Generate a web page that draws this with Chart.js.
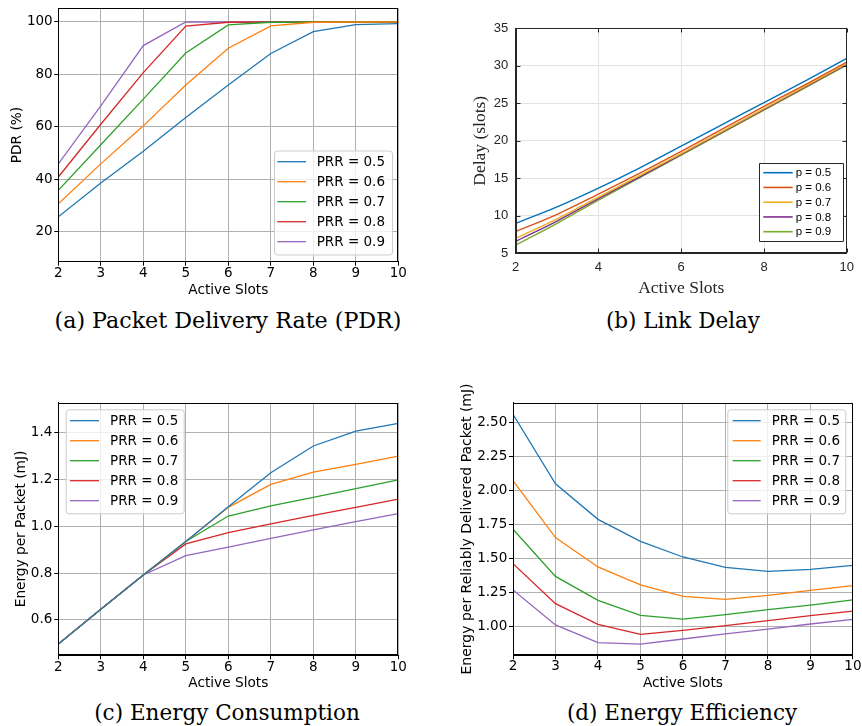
<!DOCTYPE html>
<html><head><meta charset="utf-8">
<script src="https://cdn.jsdelivr.net/npm/chart.js@4.4.1/dist/chart.umd.min.js"></script>
<style>
html,body{margin:0;padding:0;background:#fff;overflow:hidden;width:862px;height:726px;}
canvas{position:absolute;}
.cap{position:absolute;width:500px;font-family:"DejaVu Serif";font-size:21.5px;line-height:21.5px;text-align:center;white-space:nowrap;color:#000;}
</style></head>
<body>
<canvas id="ca" width="420" height="300" style="left:0;top:0"></canvas>
<canvas id="cb" width="422" height="300" style="left:440px;top:0"></canvas>
<canvas id="cc" width="420" height="320" style="left:0;top:380px"></canvas>
<canvas id="cd" width="422" height="320" style="left:440px;top:380px"></canvas>
<div class="cap" style="left:-22px;top:310px;font-size:22.2px">(a) Packet Delivery Rate (PDR)</div>
<div class="cap" style="left:433px;top:310px">(b) Link Delay</div>
<div class="cap" style="left:-23px;top:702px">(c) Energy Consumption</div>
<div class="cap" style="left:432px;top:702px">(d) Energy Efficiency</div>
<script>
// ---------- data ----------
const slots = [2, 3, 4, 5, 6, 7, 8, 9, 10];
const prrLabels = ['PRR = 0.5', 'PRR = 0.6', 'PRR = 0.7', 'PRR = 0.8', 'PRR = 0.9'];
const pLabels = ['p = 0.5', 'p = 0.6', 'p = 0.7', 'p = 0.8', 'p = 0.9'];

const pdr05 = [25.7, 38.6, 50.7, 63.6, 76.0, 88.0, 96.3, 99.0, 99.4];
const pdr06 = [30.7, 45.9, 60.4, 76.0, 90.0, 98.5, 99.9, 100, 100];
const pdr07 = [35.8, 53.2, 70.6, 88.2, 98.9, 99.9, 100, 100, 100];
const pdr08 = [40.9, 61.0, 80.7, 98.4, 99.9, 100, 100, 100, 100];
const pdr09 = [45.9, 68.0, 91.0, 100, 100, 100, 100, 100, 100];

const delay05 = [9.0, 11.2, 13.7, 16.4, 19.3, 22.2, 25.1, 28.0, 31.0];
const delay06 = [7.9, 10.2, 12.9, 15.7, 18.6, 21.6, 24.6, 27.5, 30.5];
const delay07 = [7.0, 9.6, 12.5, 15.4, 18.3, 21.3, 24.3, 27.3, 30.3];
const delay08 = [6.6, 9.3, 12.3, 15.2, 18.2, 21.2, 24.2, 27.2, 30.2];
const delay09 = [6.1, 9.0, 12.1, 15.1, 18.1, 21.1, 24.1, 27.1, 30.1];

const energy05 = [0.497, 0.646, 0.792, 0.935, 1.084, 1.229, 1.343, 1.407, 1.440];
const energy06 = [0.497, 0.646, 0.792, 0.935, 1.081, 1.179, 1.231, 1.265, 1.300];
const energy07 = [0.497, 0.646, 0.792, 0.935, 1.044, 1.087, 1.124, 1.161, 1.198];
const energy08 = [0.497, 0.646, 0.792, 0.925, 0.973, 1.010, 1.047, 1.081, 1.116];
const energy09 = [0.497, 0.646, 0.792, 0.875, 0.911, 0.948, 0.985, 1.020, 1.054];

const eff05 = [2.559, 2.050, 1.789, 1.628, 1.513, 1.437, 1.408, 1.423, 1.452];
const eff06 = [2.072, 1.655, 1.440, 1.308, 1.225, 1.203, 1.232, 1.269, 1.303];
const eff07 = [1.716, 1.371, 1.195, 1.085, 1.058, 1.090, 1.127, 1.161, 1.198];
const eff08 = [1.464, 1.171, 1.019, 0.946, 0.975, 1.010, 1.046, 1.083, 1.117];
const eff09 = [1.271, 1.015, 0.885, 0.875, 0.912, 0.949, 0.985, 1.022, 1.056];

const slotTicks = [2, 3, 4, 5, 6, 7, 8, 9, 10];
const delaySlotTicks = [2, 4, 6, 8, 10];
const pdrTicks = [20, 40, 60, 80, 100];
const delayTicks = [5, 10, 15, 20, 25, 30, 35];
const energyTicks = [0.6, 0.8, 1.0, 1.2, 1.4];
const effTicks = [1.0, 1.25, 1.5, 1.75, 2.0, 2.25, 2.5];

// ---------- styles ----------
const tab10 = ['#1f77b4', '#ff7f0e', '#2ca02c', '#d62728', '#9467bd'];
const matlab = ['#0072BD', '#D95319', '#EDB120', '#7E2F8E', '#77AC30'];
const MPL = 'DejaVu Sans';

function pts(arr) { return slots.map((s, i) => ({ x: s, y: arr[i] })); }
function series(labels, arrs, colors, width, extra) {
  return arrs.map((a, i) => Object.assign({
    label: labels[i], data: pts(a), borderColor: colors[i], backgroundColor: colors[i],
    borderWidth: width, pointRadius: 0, pointHoverRadius: 0, fill: false, tension: 0
  }, extra || {}));
}

// frame + optional inward ticks
const framePlugin = {
  id: 'frame',
  afterDatasetsDraw(chart, args, o) {
    if (!o || !o.color) return;
    const { ctx, chartArea: a } = chart;
    ctx.save();
    ctx.strokeStyle = o.color; ctx.lineWidth = o.width || 1;
    const l = Math.round(a.left) + 0.5, t = Math.round(a.top) + 0.5;
    const r = Math.round(a.right) - 0.5, b = Math.round(a.bottom) - 0.5;
    ctx.strokeRect(l, t, r - l, b - t);
    if (o.inner) {
      ctx.beginPath();
      chart.scales.y.ticks.forEach(tk => {
        const y = Math.round(chart.scales.y.getPixelForValue(tk.value)) + 0.5;
        ctx.moveTo(l, y); ctx.lineTo(l + o.inner, y);
        ctx.moveTo(r, y); ctx.lineTo(r - o.inner, y);
      });
      chart.scales.x.ticks.forEach(tk => {
        const x = Math.round(chart.scales.x.getPixelForValue(tk.value)) + 0.5;
        ctx.moveTo(x, b); ctx.lineTo(x, b - o.inner);
        ctx.moveTo(x, t); ctx.lineTo(x, t + o.inner);
      });
      ctx.stroke();
    }
    ctx.restore();
  }
};

// legend drawn inside the plot
const boxLegend = {
  id: 'boxLegend',
  afterDraw(chart, args, o) {
    if (!o || !o.w) return;
    const ctx = chart.ctx;
    ctx.save();
    ctx.beginPath();
    if (ctx.roundRect && o.radius) ctx.roundRect(o.x + 0.5, o.y + 0.5, o.w, o.h, o.radius);
    else ctx.rect(o.x + 0.5, o.y + 0.5, o.w, o.h);
    ctx.fillStyle = o.fill; ctx.fill();
    ctx.strokeStyle = o.border; ctx.lineWidth = 1; ctx.stroke();
    ctx.font = o.font; ctx.textBaseline = 'middle'; ctx.textAlign = 'left';
    chart.data.datasets.forEach((d, i) => {
      const y = o.row0 + i * o.dy;
      ctx.beginPath();
      ctx.strokeStyle = d.borderColor; ctx.lineWidth = o.lw;
      ctx.moveTo(o.lx0, y); ctx.lineTo(o.lx1, y); ctx.stroke();
      ctx.fillStyle = o.textColor;
      ctx.fillText(d.label, o.tx, y + 0.5);
    });
    ctx.restore();
  }
};

function mplScales(c) {
  return {
    x: {
      type: 'linear', min: 2, max: 10,
      afterBuildTicks: s => { s.ticks = c.xTicks.map(v => ({ value: v })); },
      afterFit: s => { s.height = c.xH; },
      grid: { color: '#b0b0b0', lineWidth: 1, tickColor: '#000', tickLength: 4, drawTicks: true },
      border: { display: true, color: '#000', width: 1 },
      ticks: { color: '#000', font: { family: MPL, size: 13.5, lineHeight: 1 }, padding: c.xPad, maxRotation: 0, autoSkip: false },
      title: { display: true, text: 'Active Slots', color: '#000', font: { family: MPL, size: 13.7, lineHeight: 1 }, padding: { top: 0, bottom: c.xTitlePad } }
    },
    y: {
      type: 'linear', min: c.yMin, max: c.yMax,
      afterBuildTicks: s => { s.ticks = c.yTicks.map(v => ({ value: v })); },
      afterFit: s => { s.width = c.yW; },
      grid: { color: '#b0b0b0', lineWidth: 1, tickColor: '#000', tickLength: 4, drawTicks: true },
      border: { display: true, color: '#000', width: 1 },
      ticks: { color: '#000', font: { family: MPL, size: 13.5, lineHeight: 1 }, padding: c.yPad, autoSkip: false,
        callback: v => v.toFixed(c.dec) },
      title: { display: true, text: c.yTitle, color: '#000', font: { family: MPL, size: c.yTitleSize || 13.7, lineHeight: 1 }, padding: { top: c.yTitlePad, bottom: 0 } }
    }
  };
}

function mplLegend(x, y, lx0, lx1, tx, row0) {
  return { x: x, y: y, w: 118, h: 104, radius: 3, fill: 'rgba(255,255,255,0.8)', border: '#cccccc',
    font: '13.5px "DejaVu Sans"', textColor: '#000', lw: 1.3, row0: row0, dy: 20, lx0: lx0, lx1: lx1, tx: tx };
}

const common = { responsive: false, animation: false, devicePixelRatio: 1, events: [] };

// (a) PDR
new Chart(document.getElementById('ca'), {
  type: 'line',
  data: { datasets: series(prrLabels, [pdr05, pdr06, pdr07, pdr08, pdr09], tab10, 1.3) },
  options: Object.assign({}, common, {
    layout: { padding: { left: 0, right: 21.7, top: 7, bottom: 0 } },
    scales: mplScales({ xTicks: slotTicks, xH: 38.3, xPad: 1, xTitlePad: 3,
      yMin: 8.6, yMax: 105.2, yTicks: pdrTicks, yW: 58.3, yPad: 1.6, dec: 0, yTitle: 'PDR (%)', yTitlePad: 10.5 }),
    plugins: { legend: { display: false }, tooltip: { enabled: false },
      frame: { color: '#000', width: 1 },
      boxLegend: mplLegend(274, 150.5, 277.3, 306, 316.7, 161.7) }
  }),
  plugins: [framePlugin, boxLegend]
});

// (b) Link Delay (MATLAB style)
new Chart(document.getElementById('cb'), {
  type: 'line',
  data: { datasets: series(pLabels, [delay05, delay06, delay07, delay08, delay09], matlab, 1.4, { cubicInterpolationMode: 'monotone' }) },
  options: Object.assign({}, common, {
    layout: { padding: { left: 0, right: 7, top: 28.3, bottom: 0 } },
    scales: {
      x: {
        type: 'linear', min: 2, max: 10,
        afterBuildTicks: s => { s.ticks = delaySlotTicks.map(v => ({ value: v })); },
        afterFit: s => { s.height = 46.7; },
        grid: { color: '#e3e3e3', lineWidth: 1, drawTicks: false },
        border: { display: true, color: '#262626', width: 1 },
        ticks: { color: '#262626', font: { family: 'Liberation Sans', size: 13, lineHeight: 1 }, padding: 8, maxRotation: 0, autoSkip: false },
        title: { display: true, text: 'Active Slots', color: '#262626', font: { family: 'Liberation Serif', size: 17.5, lineHeight: 1 }, padding: { top: 0, bottom: 3 } }
      },
      y: {
        type: 'linear', min: 5, max: 35,
        afterBuildTicks: s => { s.ticks = delayTicks.map(v => ({ value: v })); },
        afterFit: s => { s.width = 75.7; },
        grid: { color: '#e3e3e3', lineWidth: 1, drawTicks: false },
        border: { display: true, color: '#262626', width: 1 },
        ticks: { color: '#262626', font: { family: 'Liberation Sans', size: 13, lineHeight: 1 }, padding: 7.4, autoSkip: false },
        title: { display: true, text: 'Delay (slots)', color: '#262626', font: { family: 'Liberation Serif', size: 17.5, lineHeight: 1 }, padding: { top: 32, bottom: 0 } }
      }
    },
    plugins: { legend: { display: false }, tooltip: { enabled: false },
      frame: { color: '#262626', width: 1, inner: 4 },
      boxLegend: { x: 319, y: 163, w: 84, h: 78, radius: 0, fill: '#ffffff', border: '#262626',
        font: '11.5px "Liberation Sans"', textColor: '#000', lw: 1.6, row0: 172.7, dy: 14.75, lx0: 323.3, lx1: 352.7, tx: 355.7 } }
  }),
  plugins: [framePlugin, boxLegend]
});

// (c) Energy Consumption
new Chart(document.getElementById('cc'), {
  type: 'line',
  data: { datasets: series(prrLabels, [energy05, energy06, energy07, energy08, energy09], tab10, 1.3) },
  options: Object.assign({}, common, {
    layout: { padding: { left: 0, right: 21.7, top: 22.7, bottom: 0 } },
    scales: mplScales({ xTicks: slotTicks, xH: 44.7, xPad: 1, xTitlePad: 10.2,
      yMin: 0.449, yMax: 1.528, yTicks: energyTicks, yW: 58.3, yPad: 2, dec: 1, yTitle: 'Energy per Packet (mJ)', yTitlePad: 15 }),
    plugins: { legend: { display: false }, tooltip: { enabled: false },
      frame: { color: '#000', width: 1 },
      boxLegend: mplLegend(65.7, 29.3, 70, 99, 110, 40.7) }
  }),
  plugins: [framePlugin, boxLegend]
});

// (d) Energy Efficiency
new Chart(document.getElementById('cd'), {
  type: 'line',
  data: { datasets: series(prrLabels, [eff05, eff06, eff07, eff08, eff09], tab10, 1.3) },
  options: Object.assign({}, common, {
    layout: { padding: { left: 0, right: 8.7, top: 22.7, bottom: 0 } },
    scales: mplScales({ xTicks: slotTicks, xH: 44.7, xPad: 0.5, xTitlePad: 10.2,
      yMin: 0.7925, yMax: 2.644, yTicks: effTicks, yW: 73, yPad: 1.7, dec: 2, yTitle: 'Energy per Reliably Delivered Packet (mJ)', yTitlePad: 20, yTitleSize: 14 }),
    plugins: { legend: { display: false }, tooltip: { enabled: false },
      frame: { color: '#000', width: 1 },
      boxLegend: mplLegend(287.3, 29.3, 292.7, 320.7, 331.7, 40.7) }
  }),
  plugins: [framePlugin, boxLegend]
});
</script>
</body></html>
